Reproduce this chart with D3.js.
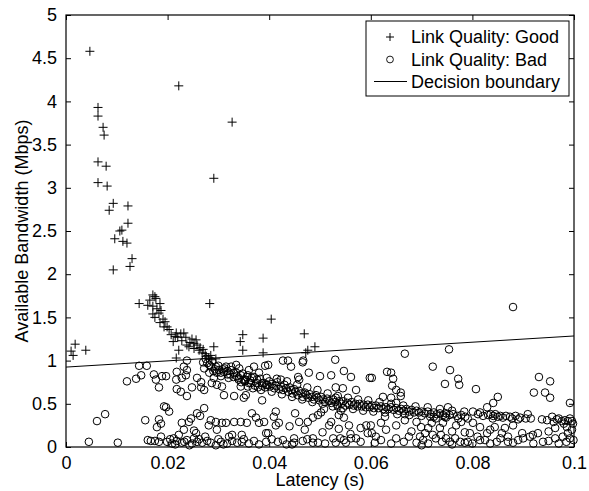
<!DOCTYPE html>
<html><head><meta charset="utf-8">
<script src="https://cdn.jsdelivr.net/npm/d3@7"></script>
<style>
html,body{margin:0;padding:0;background:#fff;}
text{font-family:"Liberation Sans",Arial,Helvetica,sans-serif;fill:#000;}
</style></head>
<body>
<svg id="chart" width="589" height="491"></svg>
<script>
// ---- Data ----
const xTicks = [0, 0.02, 0.04, 0.06, 0.08, 0.1];
const xTickLabels = ["0", "0.02", "0.04", "0.06", "0.08", "0.1"];
const yTicks = [0, 0.5, 1, 1.5, 2, 2.5, 3, 3.5, 4, 4.5, 5];
const yTickLabels = ["0", "0.5", "1", "1.5", "2", "2.5", "3", "3.5", "4", "4.5", "5"];
const legendLabels = ["Link Quality: Good", "Link Quality: Bad", "Decision boundary"];
const xLabel = "Latency (s)";
const yLabel = "Available Bandwidth (Mbps)";

// Decision boundary endpoints
const boundaryX = [0, 0.1];
const boundaryY = [0.925, 1.285];

// Link Quality: Good  [latency, bandwidth]
const goodPoints = [
[.0047,4.58],[.0063,3.93],[.0063,3.83],[.0073,3.70],[.0075,3.61],[.0222,4.18],[.0327,3.76],
[.0063,3.30],[.0079,3.25],[.0063,3.06],[.0081,3.02],[.0093,2.82],[.0085,2.74],[.0122,2.79],
[.0110,2.51],[.0106,2.50],[.0122,2.59],[.0096,2.41],[.0112,2.38],[.0120,2.36],[.0130,2.18],
[.0126,2.09],[.0093,2.05],[.0291,3.11],[.0171,1.76],[.0175,1.74],[.0144,1.66],[.0161,1.64],
[.0171,1.63],[.0185,1.66],[.0171,1.54],[.0183,1.55],[.0191,1.48],[.0283,1.66],[.0018,1.19],
[.0010,1.11],[.0014,1.06],[.0039,1.12],[.0185,1.44],[.0193,1.39],[.0199,1.39],[.0217,1.32],
[.0226,1.31],[.0232,1.32],[.0220,1.27],[.0211,1.22],[.0228,1.23],[.0238,1.18],[.0248,1.25],
[.0256,1.24],[.0242,1.16],[.0222,1.12],[.0258,1.18],[.0291,1.16],[.0262,1.12],[.0268,1.09],
[.0217,1.03],[.0348,1.30],[.0343,1.22],[.0348,1.12],[.0388,1.26],[.0388,1.09],[.0276,1.05],
[.0281,1.03],[.0287,1.01],[.0404,1.48],[.0469,1.31],[.0490,1.16],[.0476,1.12],[.0472,1.09],
[.0165,1.70],[.0177,1.72],[.0179,1.60],[.0187,1.58],[.0175,1.50],[.0195,1.45],[.0203,1.36],
[.0207,1.30],[.0215,1.28],[.0236,1.27],[.0244,1.21],[.0252,1.20],[.0264,1.15],[.0270,1.13],
[.0274,1.08],[.0285,1.06],[.0295,1.02],[.0252,1.14]
];

// Link Quality: Bad  [latency, bandwidth]
const badPoints = [
// left region
[.0144,.94],[.0159,.94],[.0120,.76],[.0138,.79],[.0148,.83],[.0173,.84],[.0177,.78],[.0183,.69],
[.0189,.82],[.0193,.47],[.0061,.30],[.0077,.38],[.0156,.31],[.0183,.32],[.0179,.23],[.0187,.27],
[.0045,.06],[.0102,.05],[.0161,.08],[.0167,.07],[.0175,.07],[.0183,.06],[.0187,.12],
// 0.02 - 0.04
[.0238,1.00],[.0278,.97],[.0285,.93],[.0295,.93],[.0272,.91],[.0301,.89],[.0311,.87],[.0325,.89],
[.0335,.86],[.0344,.83],[.0356,.81],[.0366,.80],[.0376,.78],[.0386,.74],[.0394,.72],[.0370,.93],
[.0360,.89],[.0341,.91],[.0325,.93],[.0315,.93],[.0335,.95],[.0392,.94],[.0380,.86],[.0350,.78],
[.0360,.74],[.0344,.70],[.0354,.60],[.0350,.57],[.0384,.66],[.0386,.54],[.0331,.59],[.0311,.60],
[.0307,.70],[.0297,.72],[.0287,.74],[.0291,.80],[.0297,.86],[.0266,.75],[.0266,.69],[.0258,.80],
[.0272,.66],[.0248,.69],[.0238,.59],[.0226,.64],[.0218,.67],[.0217,.78],[.0228,.80],[.0236,.83],
[.0238,.89],[.0232,.93],[.0218,.87],[.0197,.82],[.0197,.46],[.0203,.41],[.0258,.39],[.0272,.45],
[.0228,.28],[.0242,.29],[.0285,.31],[.0281,.25],[.0295,.29],[.0307,.28],[.0315,.28],[.0331,.29],
[.0344,.29],[.0356,.28],[.0366,.39],[.0374,.34],[.0380,.28],[.0390,.29],[.0394,.16],[.0256,.16],
[.0222,.14],[.0297,.20],[.0246,.33],[.0264,.36],[.0232,.20],[.0252,.19],
[.0199,.06],[.0209,.04],[.0218,.07],[.0228,.05],[.0238,.08],[.0248,.04],[.0258,.06],[.0268,.05],
[.0278,.07],[.0295,.02],[.0305,.06],[.0317,.04],[.0327,.07],[.0337,.05],[.0346,.06],[.0360,.04],
[.0321,.12],[.0327,.14],[.0346,.14],[.0274,.12],[.0252,.10],[.0212,.10],
[.0308,.90],[.0318,.84],[.0330,.81],[.0340,.78],[.0352,.76],[.0364,.74],[.0372,.71],[.0282,.86],
[.0290,.88],[.0305,.82],[.0320,.80],[.0345,.75],[.0358,.70],[.0378,.69],[.0368,.68],
[.0270,.98],[.0275,1.02],[.0282,.95],[.0288,.99],[.0293,.90],[.0300,.94],[.0305,.86],[.0312,.91],
[.0318,.88],[.0323,.84],[.0330,.86],[.0336,.82],[.0340,.80],[.0348,.85],[.0353,.78],[.0358,.83],
[.0363,.77],[.0370,.81],[.0375,.74],[.0382,.79],[.0386,.71],
[.0205,.09],[.0215,.03],[.0233,.06],[.0243,.02],[.0262,.09],[.0285,.05],[.0300,.09],[.0310,.03],
[.0350,.09],[.0370,.07],[.0380,.03],
// 0.04 - 0.06
[.0427,1.00],[.0437,1.00],[.0443,.93],[.0398,.95],[.0467,1.00],[.0478,.86],[.0500,.82],[.0522,.83],
[.0530,1.01],[.0547,.88],[.0561,.81],[.0598,.80],[.0571,.66],[.0545,.68],[.0531,.69],[.0459,.78],
[.0457,.81],[.0423,.78],[.0466,.98],
[.0531,.57],[.0535,.47],[.0541,.42],[.0508,.44],[.0502,.40],[.0496,.37],[.0486,.34],[.0476,.29],
[.0459,.29],[.0451,.39],[.0413,.41],[.0409,.35],[.0419,.28],[.0413,.25],[.0522,.29],[.0518,.25],
[.0537,.37],[.0547,.34],[.0557,.25],[.0537,.21],[.0591,.25],[.0594,.16],[.0398,.16],[.0440,.24],
[.0470,.20],[.0505,.17],[.0560,.15],[.0580,.22],
[.0394,.06],[.0417,.06],[.0427,.08],[.0449,.10],[.0449,.05],[.0486,.10],[.0486,.05],[.0496,.05],
[.0526,.10],[.0531,.05],[.0547,.08],[.0551,.05],[.0561,.10],[.0571,.10],[.0434,.03],[.0466,.07],
[.0405,.09],[.0445,.03],[.0475,.09],[.0510,.04],[.0540,.10],[.0580,.06],
// band 0.039 - 0.08
[.0390,.74],[.0392,.69],[.0396,.72],[.0400,.76],[.0402,.70],[.0406,.73],[.0410,.68],[.0413,.71],
[.0416,.75],[.0420,.67],[.0423,.70],[.0427,.66],[.0430,.72],[.0433,.68],[.0437,.64],[.0440,.69],
[.0443,.66],[.0446,.62],[.0449,.67],[.0452,.64],[.0456,.60],[.0459,.65],[.0463,.62],[.0466,.58],
[.0470,.63],[.0473,.60],[.0477,.57],[.0480,.61],[.0484,.58],[.0488,.55],[.0492,.60],[.0495,.57],
[.0499,.54],[.0502,.58],[.0506,.55],[.0510,.52],[.0514,.56],[.0518,.53],[.0522,.51],[.0526,.55],
[.0530,.52],[.0534,.49],[.0538,.53],[.0542,.50],[.0546,.53],[.0550,.48],[.0554,.51],[.0558,.49],
[.0562,.52],[.0566,.48],[.0570,.50],[.0574,.47],[.0578,.50],[.0582,.47],[.0586,.49],[.0590,.46],
[.0594,.49],[.0598,.46],[.0602,.48],[.0606,.45],[.0610,.48],[.0615,.45],[.0620,.47],[.0625,.44],
[.0630,.46],[.0635,.44],[.0640,.46],[.0645,.43],[.0650,.45],[.0655,.42],[.0660,.44],[.0665,.42],
[.0670,.44],[.0675,.41],[.0680,.43],[.0685,.40],[.0690,.42],[.0695,.40],[.0700,.41],[.0706,.39],
[.0712,.41],[.0718,.38],[.0724,.40],[.0730,.38],[.0736,.39],[.0742,.37],[.0748,.39],[.0755,.37],
[.0762,.38],[.0770,.36],[.0778,.37],[.0786,.35],
[.0395,.80],[.0405,.64],[.0415,.79],[.0425,.61],[.0435,.76],[.0445,.58],[.0455,.72],[.0465,.55],
[.0475,.69],[.0485,.52],[.0495,.66],[.0505,.50],[.0515,.62],[.0525,.47],[.0535,.59],[.0545,.45],
[.0555,.57],[.0565,.44],[.0575,.55],[.0585,.42],[.0595,.54],[.0605,.41],[.0617,.52],[.0628,.40],
[.0640,.50],[.0652,.38],[.0664,.48],[.0676,.37],[.0688,.47],[.0700,.36],[.0712,.46],[.0724,.35],
[.0736,.44],[.0748,.34],[.0760,.42],[.0772,.33],[.0784,.41],
// 0.06 - 0.08
[.0667,1.08],[.0754,1.13],[.0722,.93],[.0756,.89],[.0746,.73],[.0772,.79],[.0774,.72],[.0602,.80],
[.0632,.87],[.0640,.86],[.0644,.79],[.0642,.71],[.0650,.66],[.0659,.63],[.0659,.59],[.0624,.58],
[.0640,.57],[.0650,.51],
[.0600,.25],[.0602,.16],[.0620,.28],[.0628,.35],[.0650,.25],[.0667,.31],[.0667,.38],[.0699,.23],
[.0707,.16],[.0697,.12],[.0713,.22],[.0717,.35],[.0728,.33],[.0746,.35],[.0742,.28],[.0736,.22],
[.0752,.46],[.0768,.25],[.0778,.29],[.0791,.33],[.0785,.17],[.0795,.16],[.0610,.12],[.0630,.20],
[.0680,.18],[.0690,.29],[.0720,.28],[.0760,.18],
[.0608,.05],[.0703,.08],[.0722,.14],[.0728,.10],[.0738,.14],[.0748,.10],[.0756,.06],[.0766,.10],
[.0776,.06],[.0785,.05],[.0791,.06],[.0640,.04],[.0690,.05],[.0713,.04],[.0740,.06],
[.0620,.08],[.0650,.10],[.0665,.06],[.0675,.12],[.0700,.02],[.0760,.03],
// 0.08 - 0.1
[.0880,1.62],[.0931,.81],[.0953,.76],[.0921,.63],[.0943,.63],[.0953,.57],[.0807,.67],[.0850,.58],
[.0841,.51],[.0829,.46],[.0992,.51],[.0909,.38],
[.0801,.41],[.0811,.38],[.0821,.36],[.0831,.37],[.0841,.36],[.0850,.35],[.0860,.34],[.0874,.35],
[.0890,.32],[.0894,.34],[.0937,.32],[.0947,.31],[.0957,.35],[.0976,.30],[.0982,.31],[.0988,.30],
[.0996,.30],[.0905,.33],[.0915,.33],[.0966,.32],[.0815,.40],[.0836,.38],[.0866,.36],
[.0840,.33],[.0845,.38],[.0855,.36],[.0878,.33],[.0885,.36],[.0960,.29],[.0970,.33],[.0992,.33],
[.0998,.27],[.0980,.27],
[.0801,.28],[.0815,.23],[.0829,.16],[.0835,.20],[.0844,.23],[.0858,.16],[.0864,.22],[.0880,.25],
[.0898,.16],[.0919,.14],[.0929,.16],[.0939,.06],[.0963,.22],[.0963,.10],[.0986,.23],[.0988,.16],
[.0992,.10],[.0848,.06],[.0870,.06],[.0825,.08],[.0880,.05],[.0900,.10],[.0913,.12],[.0810,.12],
[.0870,.12],[.0950,.18],[.0978,.12],[.0996,.20],
[.0800,.04],[.0815,.08],[.0835,.04],[.0855,.10],[.0890,.08],[.0920,.04],[.0950,.07],[.0970,.04],
[.0985,.06],[.0999,.08]
];

// ---- Layout ----
const W = 589, H = 491;
const plot = {left: 66, right: 574, top: 15, bottom: 447};
const svg = d3.select("#chart");
svg.append("rect").attr("width", W).attr("height", H).attr("fill", "#fff");

const x = d3.scaleLinear().domain([0, 0.1]).range([plot.left, plot.right]);
const y = d3.scaleLinear().domain([0, 5]).range([plot.bottom, plot.top]);

const FS = "18px";
const tickLen = 5;

const fmtX = (d, i) => xTickLabels[i];
const fmtY = (d, i) => yTickLabels[i];

const gB = svg.append("g").attr("transform", `translate(0,${plot.bottom})`)
  .call(d3.axisBottom(x).tickValues(xTicks).tickFormat(fmtX).tickSizeInner(-tickLen).tickSizeOuter(0).tickPadding(9));
const gL = svg.append("g").attr("transform", `translate(${plot.left},0)`)
  .call(d3.axisLeft(y).tickValues(yTicks).tickFormat(fmtY).tickSizeInner(-tickLen).tickSizeOuter(0).tickPadding(9));
const gT = svg.append("g").attr("transform", `translate(0,${plot.top})`)
  .call(d3.axisTop(x).tickValues(xTicks).tickFormat("").tickSizeInner(-tickLen).tickSizeOuter(0));
const gR = svg.append("g").attr("transform", `translate(${plot.right},0)`)
  .call(d3.axisRight(y).tickValues(yTicks).tickFormat("").tickSizeInner(-tickLen).tickSizeOuter(0));

[gB, gL, gT, gR].forEach(g => {
  g.select(".domain").remove();
  g.selectAll(".tick line").attr("stroke", "#000").attr("stroke-width", 1);
  g.selectAll("text").style("font-size", FS).attr("fill", "#000")
   .style("font-family", '"Liberation Sans",Arial,Helvetica,sans-serif');
});

// Data marks
const gGood = svg.append("g");
gGood.selectAll("path").data(goodPoints).enter().append("path")
  .attr("d", d => `M${x(d[0]) - 4.5},${y(d[1])}H${x(d[0]) + 4.5}M${x(d[0])},${y(d[1]) - 4.5}V${y(d[1]) + 4.5}`)
  .attr("stroke", "#000").attr("stroke-width", 1).attr("fill", "none");

const gBad = svg.append("g");
gBad.selectAll("circle").data(badPoints).enter().append("circle")
  .attr("cx", d => x(d[0])).attr("cy", d => y(d[1])).attr("r", 3.8)
  .attr("fill", "none").attr("stroke", "#000").attr("stroke-width", 1);

// Decision boundary
const line = d3.line().x(d => x(d[0])).y(d => y(d[1]));
svg.append("path").datum(boundaryX.map((v, i) => [v, boundaryY[i]]))
  .attr("d", line).attr("stroke", "#000").attr("stroke-width", 1).attr("fill", "none");

// Frame
svg.append("rect").attr("x", plot.left).attr("y", plot.top)
  .attr("width", plot.right - plot.left).attr("height", plot.bottom - plot.top)
  .attr("fill", "none").attr("stroke", "#000").attr("stroke-width", 1.2);

// Axis labels
svg.append("text").attr("x", (plot.left + plot.right) / 2).attr("y", 486)
  .attr("text-anchor", "middle").style("font-size", FS).text(xLabel);
svg.append("text").attr("transform", `translate(28,${(plot.top + plot.bottom) / 2}) rotate(-90)`)
  .attr("text-anchor", "middle").style("font-size", FS).text(yLabel);

// Legend
const lg = svg.append("g");
lg.append("rect").attr("x", 366).attr("y", 21).attr("width", 203).attr("height", 75)
  .attr("fill", "#fff").attr("stroke", "#000").attr("stroke-width", 1);
const rowsY = [37, 59.5, 81.5];
lg.append("path").attr("d", `M${390 - 4},${rowsY[0]}H${390 + 4}M390,${rowsY[0] - 4}V${rowsY[0] + 4}`)
  .attr("stroke", "#000").attr("stroke-width", 1);
lg.append("circle").attr("cx", 390).attr("cy", rowsY[1]).attr("r", 3.4)
  .attr("fill", "none").attr("stroke", "#000").attr("stroke-width", 0.9);
lg.append("line").attr("x1", 374).attr("x2", 407).attr("y1", rowsY[2]).attr("y2", rowsY[2])
  .attr("stroke", "#000").attr("stroke-width", 1);
lg.selectAll("text.lab").data(legendLabels).enter().append("text").attr("class", "lab")
  .attr("x", 411).attr("y", (d, i) => rowsY[i] + 6.3).style("font-size", "18px").text(d => d);
</script>
</body></html>
